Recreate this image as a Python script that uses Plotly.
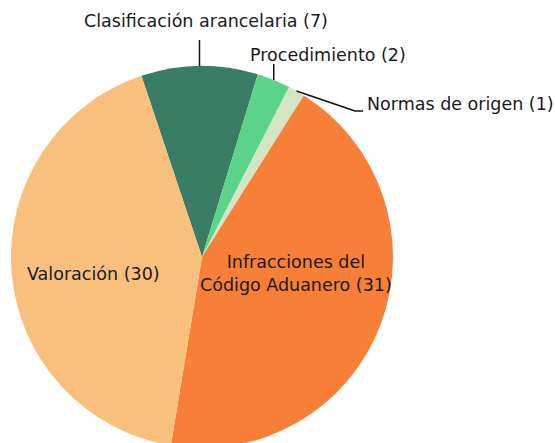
import math
import plotly.graph_objects as go

# Slice data (clockwise order)
categories = [
    "Clasificación arancelaria",
    "Procedimiento",
    "Normas de origen",
    "Infracciones del Código Aduanero",
    "Valoración",
]
counts = [7, 2, 1, 31, 30]
colors = ["#3a7d64", "#5cd38b", "#d3e5c4", "#f77f38", "#f9bf7d"]

# Figure / pie geometry in pixels
W, H = 555, 448
CX, CY, R = 202, 257, 191
ROTATION = -18.5
FONT = dict(family="DejaVu Sans, Verdana, sans-serif", size=17.5, color="#1a1a1a")


def px(x, y):
    """Pixel position -> paper coordinates."""
    return x / W, 1 - y / H


def rim_point(theta_deg, frac=1.0):
    t = math.radians(theta_deg)
    return CX + frac * R * math.sin(t), CY - frac * R * math.cos(t)


total = sum(counts)
mids = []
start = ROTATION
for c in counts:
    span = 360 * c / total
    mids.append(start + span / 2)
    start += span

fig = go.Figure(
    go.Pie(
        labels=categories,
        values=counts,
        sort=False,
        direction="clockwise",
        rotation=ROTATION,
        marker=dict(colors=colors, line=dict(width=0)),
        textinfo="none",
        hoverinfo="label+value",
        showlegend=False,
        domain=dict(x=[(CX - R) / W, (CX + R) / W], y=[0, 2 * R / H]),
    )
)

shapes = []
annotations = []


def label(text, x, y, xanchor="center"):
    xp, yp = px(x, y)
    annotations.append(
        dict(text=text, x=xp, y=yp, xref="paper", yref="paper",
             xanchor=xanchor, yanchor="middle", showarrow=False, font=FONT)
    )


def seg(p0, p1):
    x0, y0 = px(*p0)
    x1, y1 = px(*p1)
    shapes.append(dict(type="line", xref="paper", yref="paper",
                       x0=x0, y0=y0, x1=x1, y1=y1,
                       line=dict(color="#111111", width=1.5)))


def text_of(i):
    return f"{categories[i]} ({counts[i]})"


# Clasificación arancelaria: vertical leader from the rim
rx, ry = rim_point(mids[0])
seg((rx, ry), (rx, 40))
label(text_of(0), 206, 21)

# Procedimiento: vertical leader
rx, ry = rim_point(mids[1])
seg((rx, ry), (rx, 64))
label(text_of(1), 328, 55)

# Normas de origen: bent leader
rx, ry = rim_point(mids[2])
seg((rx, ry), (355, 111))
seg((355, 111), (363, 111))
label(text_of(2), 365, 104, xanchor="left")

# Inside labels
label(text_of(4), 93, 274)
label("Infracciones del<br>Código Aduanero (31)", 296, 273)

fig.update_layout(
    width=W,
    height=H,
    margin=dict(l=0, r=0, t=0, b=0),
    paper_bgcolor="white",
    plot_bgcolor="white",
    shapes=shapes,
    annotations=annotations,
)

fig.write_html("out.html")
